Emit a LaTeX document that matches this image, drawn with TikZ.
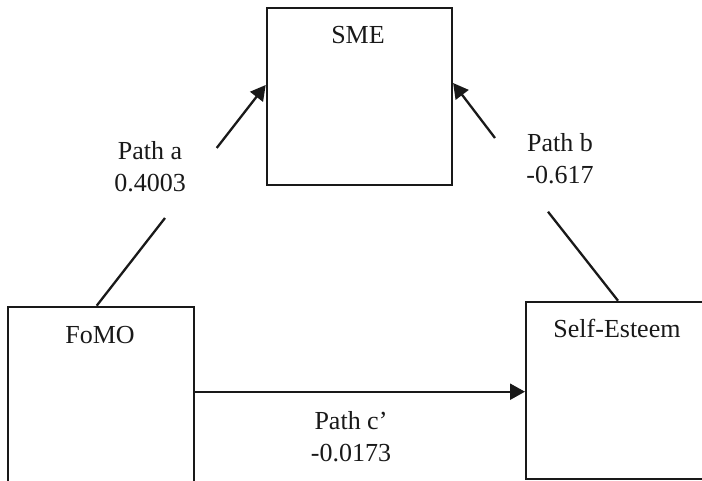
\documentclass[tikz,border=0pt]{standalone}
\usepackage{fontspec}
\setmainfont{Liberation Serif}
\usetikzlibrary{arrows.meta}
\begin{document}
\begin{tikzpicture}[x=1pt,y=-1pt,
  box/.style={draw=black!90,line width=2.4pt,rectangle,inner sep=0pt,anchor=north west},
  lbl/.style={font=\fontsize{26}{32}\selectfont,inner sep=0pt,anchor=base,align=center,text=black!90},
  conn/.style={line width=2.3pt,draw=black!90},
  arr/.style={conn,-{Triangle[length=15pt,width=16pt]}}]
\useasboundingbox (0,0) rectangle (702,480);
\clip (0,0) rectangle (702,480);
% boxes
\node[box,minimum width=185pt,minimum height=177pt] (sme) at (265.7,7) {};
\node[box,minimum width=185.5pt,minimum height=200pt] (fomo) at (7,305.7) {};
\node[box,minimum width=200pt,minimum height=177pt] (self) at (525,300.7) {};
% box texts
\node[lbl] (tsme) at (358,43) {SME};
\node[lbl] (tfomo) at (100,343) {FoMO};
\node[lbl] (tself) at (617,337) {Self-Esteem};
% path labels (anchor base = baseline of last line)
\node[lbl] (la) at (150,191.7) {Path a\\0.4003};
\node[lbl] (lb) at (560,183) {Path b\\-0.617};
\node[lbl] (lc) at (351,461.7) {Path c’\\-0.0173};
% connectors
\coordinate (a1) at (165,218);
\coordinate (a2) at (216.7,148);
\coordinate (b1) at (548,211.7);
\coordinate (b2) at (495,138);
\draw[conn] ([xshift=89.7pt]fomo.north west) -- (a1);
\draw[arr] (a2) -- ([yshift=-78pt]sme.north west);
\draw[conn] ([xshift=93pt]self.north west) -- (b1);
\draw[arr] (b2) -- ([yshift=-76pt]sme.north east);
\draw[arr] ([yshift=-86pt]fomo.north east) -- ([yshift=-91pt]self.north west);
\end{tikzpicture}
\end{document}
